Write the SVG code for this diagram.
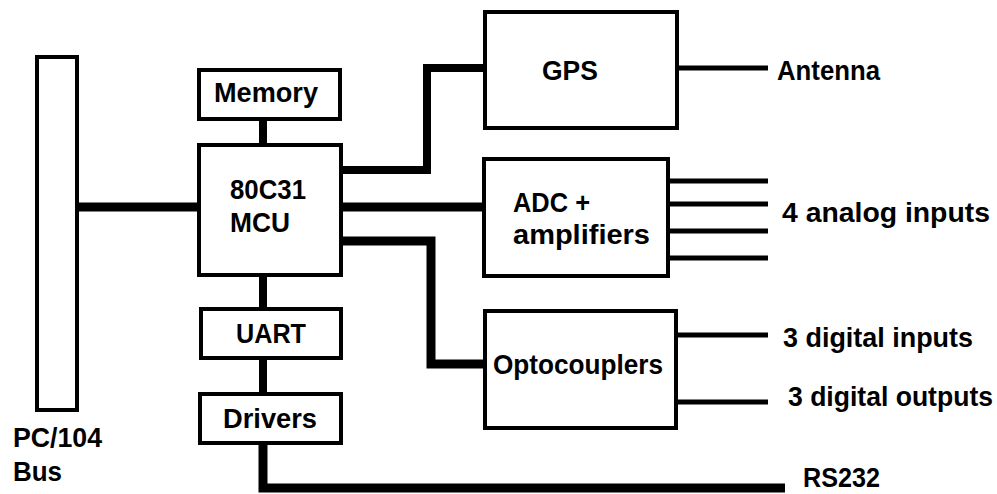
<svg xmlns="http://www.w3.org/2000/svg" width="997" height="494" viewBox="0 0 997 494">
<style>
.box{fill:#fff;stroke:#000;stroke-width:4}
.wire{fill:none;stroke:#000;stroke-linejoin:miter;stroke-linecap:butt}
.thick{stroke-width:9}
.mid{stroke-width:8}
.thin{stroke-width:5}
text{font-family:"Liberation Sans",Arial,sans-serif;font-weight:bold;font-size:27px;fill:#000}
</style>
<rect width="997" height="494" fill="#fff"/>
<g id="connectors">
<path class="wire thick" d="M79 207H199"/>
<path class="wire mid" d="M263 121V145"/>
<path class="wire mid" d="M263 275V309"/>
<path class="wire mid" d="M263 358V394"/>
<path class="wire thick" d="M263 443V488H785"/>
<path class="wire mid" d="M341 170H427V68H485"/>
<path class="wire thick" d="M341 207H484"/>
<path class="wire thick" d="M341 241H431V364H485"/>
<path class="wire thin" d="M677 68H768"/>
<path class="wire thin" d="M668 181H768M668 204H768M668 231H768M668 258H768"/>
<path class="wire thin" d="M676 335H768M676 402H768"/>
</g>
<g id="bus">
<rect class="box" x="37" y="57" width="40" height="353"/>
<text x="13" y="447" textLength="89" lengthAdjust="spacingAndGlyphs">PC/104</text>
<text x="13" y="481" textLength="49" lengthAdjust="spacingAndGlyphs">Bus</text>
</g>
<g id="memory">
<rect class="box" x="199" y="70" width="141" height="49"/>
<text x="214" y="102" textLength="104" lengthAdjust="spacingAndGlyphs">Memory</text>
</g>
<g id="mcu">
<rect class="box" x="199" y="145" width="142" height="130"/>
<text x="230" y="199" font-size="29" textLength="76" lengthAdjust="spacingAndGlyphs">80C31</text>
<text x="230" y="232" textLength="60" lengthAdjust="spacingAndGlyphs">MCU</text>
</g>
<g id="uart">
<rect class="box" x="201" y="309" width="140" height="49"/>
<text x="236" y="343" textLength="70" lengthAdjust="spacingAndGlyphs">UART</text>
</g>
<g id="drivers">
<rect class="box" x="200" y="394" width="141" height="49"/>
<text x="223" y="428" textLength="94" lengthAdjust="spacingAndGlyphs">Drivers</text>
</g>
<g id="gps">
<rect class="box" x="485" y="12" width="192" height="116"/>
<text x="542" y="80" font-size="25" textLength="56" lengthAdjust="spacingAndGlyphs">GPS</text>
</g>
<g id="adc">
<rect class="box" x="484" y="159" width="184" height="117"/>
<text x="513" y="212" textLength="77" lengthAdjust="spacingAndGlyphs">ADC +</text>
<text x="513" y="244" textLength="137" lengthAdjust="spacingAndGlyphs">amplifiers</text>
</g>
<g id="opto">
<rect class="box" x="485" y="311" width="191" height="117"/>
<text x="493" y="374" textLength="170" lengthAdjust="spacingAndGlyphs">Optocouplers</text>
</g>
<g id="antenna">
<text x="777" y="80" textLength="103" lengthAdjust="spacingAndGlyphs">Antenna</text>
</g>
<g id="analog">
<text x="782" y="222" font-size="29" textLength="208" lengthAdjust="spacingAndGlyphs">4 analog inputs</text>
</g>
<g id="din">
<text x="783" y="347" font-size="28" textLength="190" lengthAdjust="spacingAndGlyphs">3 digital inputs</text>
</g>
<g id="dout">
<text x="788" y="406" font-size="28" textLength="205" lengthAdjust="spacingAndGlyphs">3 digital outputs</text>
</g>
<g id="rs232">
<text x="803" y="487" font-size="26" textLength="77" lengthAdjust="spacingAndGlyphs">RS232</text>
</g>
</svg>
